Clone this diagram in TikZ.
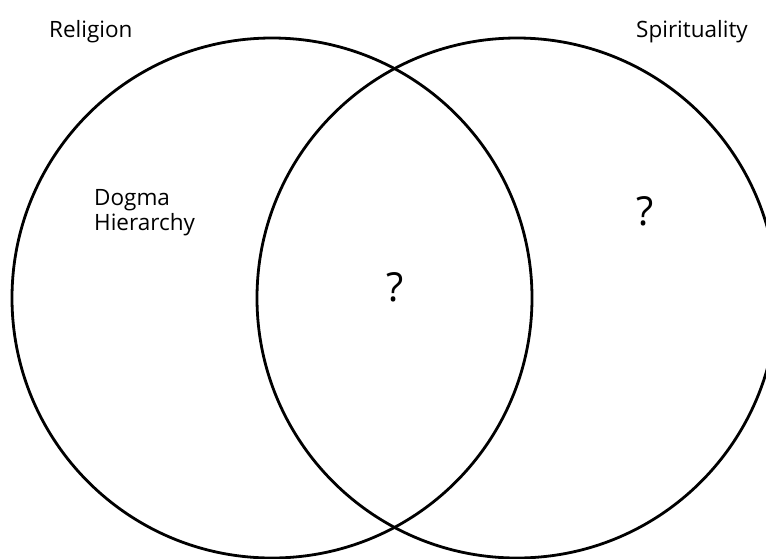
\documentclass[tikz,border=0pt]{standalone}
\usepackage{fontspec}
\setmainfont{Open Sans}
\begin{document}
\begin{tikzpicture}[x=1pt,y=-1pt,
  ring/.style={draw=black,line width=2.8pt},
  lbl/.style={font=\fontsize{22.5}{25}\selectfont,inner sep=0pt,anchor=base west},
  qm/.style={font=\fontsize{40}{44}\selectfont,inner sep=0pt}]
\useasboundingbox (0,0) rectangle (766,558);
\clip (0,0) rectangle (766,558);
\node[ring,circle,minimum size=520pt,inner sep=0pt] (rel) at (272,298) {};
\node[ring,circle,minimum size=520pt,inner sep=0pt] (spi) at (517,298) {};
\node[lbl] (religion) at (49,37) {Religion};
\node[lbl,anchor=base] (spirit) at (692,37) {Spirituality};
\node[lbl] (dogma) at (94,205) {Dogma};
\node[lbl] (hier) at (94,230) {Hierarchy};
\node[qm] (q1) at (395,287) {?};
\node[qm] (q2) at (645,211) {?};
\end{tikzpicture}
\end{document}
